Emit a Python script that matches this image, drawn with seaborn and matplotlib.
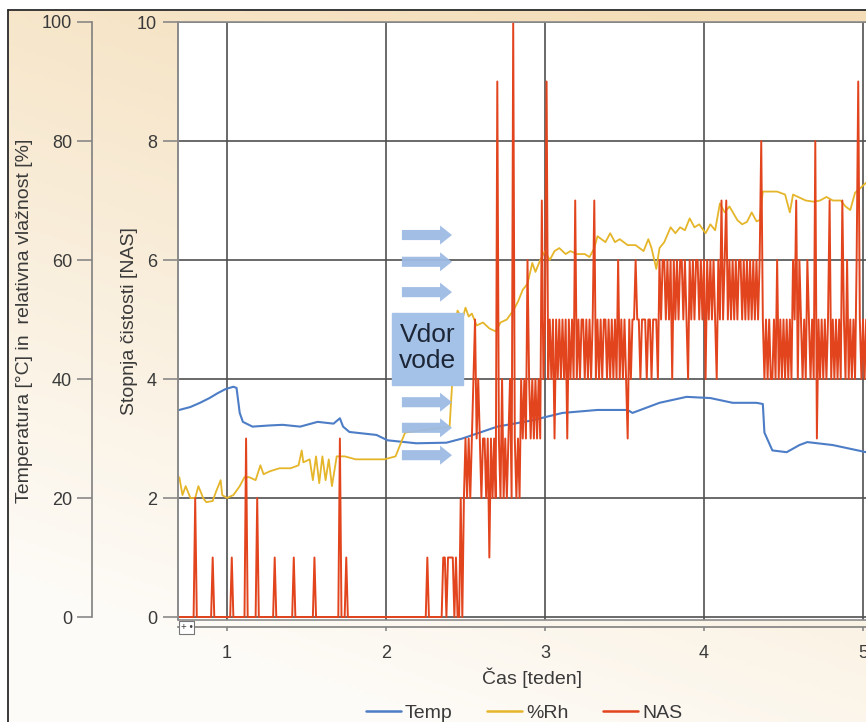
import numpy as np
import matplotlib
matplotlib.use('Agg')
import matplotlib.pyplot as plt
import seaborn as sns
from matplotlib.lines import Line2D
from matplotlib.patches import Rectangle, FancyArrow

# NAS cleanliness class, sampled every 0.01 week from 0.70 to 5.02
nas_values = [
    0, 0, 0, 0, 0, 0, 0, 0, 0, 0, 2, 0, 0, 0, 0, 0, 0, 0, 0, 0,      # 0.70
    0, 1, 0, 0, 0, 0, 0, 0, 0, 0, 0, 0, 0, 1, 0, 0, 0, 0, 0, 0,      # 0.90
    0, 0, 3, 0, 0, 0, 0, 0, 0, 2, 0, 0, 0, 0, 0, 0, 0, 0, 0, 0,      # 1.10
    1, 0, 0, 0, 0, 0, 0, 0, 0, 0, 0, 0, 1, 0, 0, 0, 0, 0, 0, 0,      # 1.30
    0, 0, 0, 0, 0, 1, 0, 0, 0, 0, 0, 0, 0, 0, 0, 0, 0, 0, 0, 0,      # 1.50
    0, 3, 0, 0, 0, 1, 0, 0, 0, 0, 0, 0, 0, 0, 0, 0, 0, 0, 0, 0,      # 1.70
    0, 0, 0, 0, 0, 0, 0, 0, 0, 0, 0, 0, 0, 0, 0, 0, 0, 0, 0, 0,      # 1.90
    0, 0, 0, 0, 0, 0, 0, 0, 0, 0, 0, 0, 0, 0, 0, 0, 1, 0, 0, 0,      # 2.10
    0, 0, 0, 0, 0, 0, 1, 1, 0, 1, 1, 1, 1, 0, 1, 0, 0, 2, 0, 2,      # 2.30
    3, 2, 3, 2, 3, 4, 5, 3, 4, 3, 2, 3, 3, 2, 3, 1, 3, 2, 3, 2,      # 2.50
    9, 3, 2, 4, 2, 3, 2, 3, 4, 2, 10, 3, 2, 3, 2, 4, 3, 4, 3, 6,     # 2.70
    4, 3, 4, 3, 4, 3, 4, 3, 7, 4, 5, 9, 4, 5, 4, 5, 3, 5, 4, 5,      # 2.90
    4, 5, 4, 5, 3, 5, 4, 5, 4, 7, 4, 5, 4, 5, 5, 4, 5, 4, 5, 4,      # 3.10
    5, 7, 4, 5, 4, 5, 4, 5, 5, 4, 5, 4, 5, 4, 5, 4, 6, 4, 5, 4,      # 3.30
    5, 4, 3, 5, 4, 5, 5, 6, 5, 5, 4, 5, 5, 5, 4, 5, 5, 4, 5, 5,      # 3.50
    5, 4, 6, 5, 6, 6, 5, 6, 5, 6, 4, 6, 5, 6, 5, 6, 6, 5, 6, 5,      # 3.70
    4, 6, 5, 6, 5, 6, 6, 5, 6, 5, 6, 4, 6, 5, 6, 5, 6, 5, 4, 6,      # 3.90
    5, 7, 5, 6, 7, 5, 6, 5, 6, 5, 6, 5, 6, 6, 5, 6, 5, 6, 5, 6,      # 4.10
    5, 6, 5, 6, 5, 6, 8, 5, 4, 5, 4, 5, 4, 4, 5, 4, 6, 4, 5, 4,      # 4.30
    5, 4, 5, 4, 5, 4, 6, 5, 7, 4, 6, 5, 4, 5, 4, 6, 5, 4, 5, 4,      # 4.50
    8, 3, 5, 4, 5, 4, 5, 4, 5, 7, 4, 5, 4, 5, 4, 5, 4, 7, 5, 4,      # 4.70
    6, 4, 5, 4, 5, 4, 6, 9, 5, 4, 5, 4, 5,                           # 4.90
]
nas_t = np.round(0.70 + 0.01 * np.arange(len(nas_values)), 2)

# relative humidity [%]
rh_t = [0.70, 0.72, 0.74, 0.77, 0.80, 0.82, 0.85, 0.87, 0.91, 0.93,
        0.96, 0.97, 1.00, 1.04, 1.08, 1.11, 1.14, 1.18, 1.21, 1.23,
        1.27, 1.33, 1.40, 1.45, 1.47, 1.48, 1.52, 1.54, 1.56, 1.58,
        1.60, 1.62, 1.64, 1.66, 1.69, 1.74, 1.81, 1.90, 1.99, 2.06,
        2.09, 2.12, 2.40, 2.44, 2.45, 2.48, 2.50, 2.52, 2.54, 2.57,
        2.61, 2.65, 2.69, 2.72, 2.76, 2.80, 2.83, 2.86, 2.89, 2.92,
        2.94, 2.97, 3.00, 3.03, 3.06, 3.09, 3.13, 3.16, 3.20, 3.25,
        3.28, 3.31, 3.33, 3.38, 3.41, 3.44, 3.47, 3.52, 3.57, 3.62,
        3.65, 3.67, 3.70, 3.72, 3.75, 3.79, 3.82, 3.85, 3.88, 3.91,
        3.94, 3.97, 4.01, 4.04, 4.07, 4.10, 4.13, 4.16, 4.21, 4.24,
        4.27, 4.30, 4.33, 4.35, 4.37, 4.42, 4.46, 4.51, 4.54, 4.56,
        4.60, 4.64, 4.69, 4.73, 4.77, 4.81, 4.86, 4.89, 4.92, 4.95,
        4.98, 5.02]
rh_v = [23.5, 20.5, 22.0, 20.0, 20.0, 22.0, 20.0, 19.3, 19.5, 21.0,
        23.0, 20.5, 20.0, 20.5, 22.0, 23.5, 23.5, 23.0, 25.5, 24.0,
        24.5, 25.0, 25.0, 25.5, 28.0, 26.0, 26.5, 23.0, 27.0, 22.5,
        27.0, 23.0, 26.5, 22.0, 27.0, 27.0, 26.5, 26.5, 26.5, 27.0,
        29.0, 31.0, 32.0, 50.0, 51.5, 50.0, 52.0, 50.5, 51.0, 49.0,
        49.5, 48.5, 48.0, 49.5, 50.0, 51.5, 53.0, 55.0, 56.0, 59.5,
        58.0, 60.0, 61.5, 60.0, 61.5, 62.0, 61.0, 61.5, 61.0, 61.0,
        60.5, 62.0, 64.0, 63.0, 64.5, 63.0, 63.5, 62.5, 62.5, 61.5,
        63.5, 62.0, 58.5, 62.0, 63.0, 65.5, 64.5, 65.5, 65.0, 67.0,
        65.5, 66.0, 64.5, 66.0, 65.0, 69.5, 68.0, 69.0, 66.7, 66.0,
        66.4, 68.0, 66.5, 66.7, 71.5, 71.5, 71.5, 71.0, 68.0, 71.0,
        70.5, 70.0, 69.8, 70.0, 70.6, 70.0, 70.0, 69.0, 68.4, 71.3,
        72.0, 73.0]

# temperature [°C]
temp_t = [0.70, 0.77, 0.83, 0.89, 0.94, 0.99, 1.04, 1.06, 1.08, 1.10, 1.16,
          1.27, 1.35, 1.46, 1.57, 1.67, 1.71, 1.73, 1.77, 1.94, 2.01, 2.19,
          2.38, 2.48, 2.59, 2.70, 2.91, 3.11, 3.33, 3.52, 3.55, 3.72, 3.89,
          4.04, 4.18, 4.33, 4.37, 4.38, 4.43, 4.52, 4.60, 4.65, 4.81, 5.02]
temp_v = [34.8, 35.3, 36.0, 36.8, 37.6, 38.3, 38.7, 38.5, 34.3, 32.8, 32.0,
          32.2, 32.3, 32.0, 32.8, 32.5, 33.4, 32.0, 31.1, 30.6, 29.7, 29.2,
          29.3, 30.0, 31.0, 32.0, 33.0, 34.3, 34.8, 34.8, 34.3, 36.0, 37.0,
          36.8, 36.0, 36.0, 35.8, 31.0, 28.0, 27.7, 28.9, 29.4, 28.9, 27.7]

week_ticks = [1, 2, 3, 4, 5]
pct_ticks = [0, 20, 40, 60, 80, 100]
nas_ticks = [0, 2, 4, 6, 8, 10]
legend_labels = ['Temp', '%Rh', 'NAS']

c_temp = '#4c7dc6'
c_rh = '#e5b52a'
c_nas = '#e2441d'
c_grid = '#505050'
c_axis = '#808080'
c_text = '#3a3a3a'

sns.set_style('white')
plt.rcParams['font.family'] = ['Liberation Sans', 'DejaVu Sans']

W, H = 866, 722
fig = plt.figure(figsize=(W / 100, H / 100), dpi=100)

# beige gradient background inside the frame
bg = fig.add_axes([0, 0, 1, 1], zorder=-10)
bg.axis('off')
gy, gx = np.mgrid[0:1:200j, 0:1:200j]
w = np.clip(0.85 * (1 - gy) + 0.35 * gx - 0.15, 0, 1)[..., None]
light = np.array([0.995, 0.988, 0.975])
beige = np.array([0.955, 0.865, 0.715])
bg.imshow(light * (1 - w) + beige * w, extent=[8 / W, 1, 0, 1 - 10 / H],
          origin='upper', aspect='auto')
bg.set_xlim(0, 1)
bg.set_ylim(0, 1)
fig.add_artist(Line2D([8 / W, 8 / W], [0, 1 - 10 / H], color='#2a2a2a', lw=1.3))
fig.add_artist(Line2D([8 / W, 1], [1 - 10 / H, 1 - 10 / H], color='#2a2a2a', lw=1.3))

left, top, bottom, right = 178, 22, 620, 912
ax = fig.add_axes([left / W, 1 - bottom / H, (right - left) / W, (bottom - top) / H])
ax.set_facecolor('white')
ax2 = ax.twinx()

# temperature and humidity on the 0-100 scale
sns.lineplot(x=temp_t, y=temp_v, ax=ax, color=c_temp, lw=1.5,
             estimator=None, sort=False, legend=False)
sns.lineplot(x=rh_t, y=rh_v, ax=ax, color=c_rh, lw=1.3,
             estimator=None, sort=False, legend=False)
# NAS on its own axis
sns.lineplot(x=nas_t, y=nas_values, ax=ax2, color=c_nas, lw=1.4,
             estimator=None, sort=False, legend=False)

x0 = 1 + (left - 227) / 159
x1 = 1 + (right - 227) / 159
ax.set_xlim(x0, x1)
ax.set_ylim(-0.5, 100)
ax2.set_ylim(-0.05, 10)
ax.set_xticks(week_ticks)
ax.set_yticks(pct_ticks)
ax2.set_yticks(nas_ticks)

ax.grid(True, color=c_grid, lw=1.2)
ax.set_axisbelow(True)
ax2.grid(False)

for s in ['top', 'right']:
    ax.spines[s].set_visible(False)
for s in ['top', 'right', 'bottom']:
    ax2.spines[s].set_visible(False)
ax.spines['left'].set_position(('axes', (92 - left) / (right - left)))
ax.spines['left'].set_bounds(0, 100)
ax.spines['bottom'].set_position(('outward', 5))
for sp in [ax.spines['left'], ax.spines['bottom'], ax2.spines['left']]:
    sp.set_color(c_axis)
    sp.set_linewidth(1.2)

ax2.yaxis.tick_left()
ax2.yaxis.set_label_position('left')
ax2.spines['left'].set_visible(True)

ax.tick_params(axis='y', direction='out', length=10.8, width=1.1, color=c_axis,
               pad=3.6, labelsize=13, labelcolor=c_text, left=True)
ax2.tick_params(axis='y', direction='out', length=10.8, width=1.1, color=c_axis,
                pad=4.3, labelsize=13, labelcolor=c_text, left=True, right=False,
                labelleft=True, labelright=False)
ax.tick_params(axis='x', direction='out', length=3, width=1.1, color=c_axis,
               pad=10, labelsize=13, labelcolor=c_text, bottom=True)

ax.set_ylabel('Temperatura [°C] in  relativna vlažnost [%]', fontsize=14, color=c_text)
ax.yaxis.set_label_coords((33 - left) / (right - left), 0.5)
ax2.set_ylabel('Stopnja čistosti [NAS]', fontsize=14, color=c_text)
ax2.yaxis.set_label_coords((138 - left) / (right - left), 0.5)
ax.set_xlabel('Čas [teden]', fontsize=14, color=c_text)
ax.xaxis.set_label_coords((532 - left) / (right - left), (bottom - 667) / (bottom - top))

# plot frame
ax2.add_patch(Rectangle((0, 0), 1, 1, transform=ax2.transAxes, fill=False,
                        edgecolor='#8c8c8c', lw=1.2, clip_on=False, zorder=5))

# water ingress annotation
for ya in [6.42, 5.97, 5.46, 3.61, 3.18, 2.72]:
    ax2.add_patch(FancyArrow(2.10, ya, 0.315, 0, width=0.17, head_width=0.32,
                             head_length=0.075, length_includes_head=True,
                             color='#9dbbe3', alpha=0.95, lw=0, zorder=6))
ax2.add_patch(Rectangle((2.04, 3.90), 0.445, 1.21, color='#a4c2e8', zorder=7))
ax2.text(2.262, 4.52, 'Vdor\nvode', fontsize=19, ha='center', va='center',
         color='#1c2636', linespacing=1.15, zorder=8)

ax2.text(0.004, -0.004, '+ •', transform=ax2.transAxes, fontsize=7, va='top',
         color='#444', zorder=8,
         bbox=dict(boxstyle='square,pad=0.15', fc='white', ec='#777', lw=0.8))

handles = [Line2D([], [], color=c, lw=1.8) for c in [c_temp, c_rh, c_nas]]
leg = fig.legend(handles, legend_labels, loc='center', ncol=3, frameon=False,
                 bbox_to_anchor=(524 / W, 1 - 713 / H), fontsize=14,
                 handlelength=1.8, handletextpad=0.2, columnspacing=1.8)
for t in leg.get_texts():
    t.set_color(c_text)

fig.savefig('out.png', dpi=100)
